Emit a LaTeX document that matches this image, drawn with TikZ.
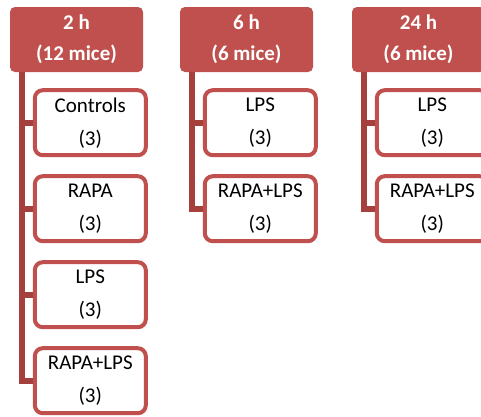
\documentclass[tikz,border=0pt]{standalone}
\usepackage{fontspec}
\setmainfont{Carlito}
\usetikzlibrary{positioning}
\definecolor{hdred}{HTML}{C0504D}
\definecolor{linered}{HTML}{A5403D}

\begin{document}
\begin{tikzpicture}[
    x=1pt, y=1pt,
    node distance=17pt,
    head/.style={rectangle, fill=hdred, rounded corners=5pt, minimum width=133pt, minimum height=65pt, inner sep=0pt, align=center, text=white, font=\fontsize{21}{31}\selectfont\bfseries},
    group/.style={rectangle, draw=hdred, line width=4pt, fill=white, rounded corners=8pt, minimum width=111pt, minimum height=65pt, inner sep=0pt, align=center, font=\fontsize{21}{33}\selectfont},
    link/.style={linered, line width=6pt}
]
    \useasboundingbox (0,0) rectangle (481,-416);
    \clip (0,0) rectangle (481,-416);

    % time points
    \node[head] (h2) at (76.5,-39.5) {2 h\\(12 mice)};
    \node[head] (h6) at (246.5,-39.5) {6 h\\(6 mice)};
    \node[head] (h24) at (418.5,-39.5) {24 h\\(6 mice)};

    % 2 h groups
    \node[group, anchor=north west] (ctrl2) at ([xshift=23pt, yshift=-16pt]h2.south west) {Controls\\(3)};
    \node[group, below=of ctrl2] (rapa2) {RAPA\\(3)};
    \node[group, below=of rapa2] (lps2) {LPS\\(3)};
    \node[group, below=of lps2] (both2) {RAPA+LPS\\(3)};

    % 6 h groups
    \node[group, anchor=north west] (lps6) at ([xshift=23pt, yshift=-16pt]h6.south west) {LPS\\(3)};
    \node[group, below=of lps6] (both6) {RAPA+LPS\\(3)};

    % 24 h groups
    \node[group, anchor=north west] (lps24) at ([xshift=23pt, yshift=-16pt]h24.south west) {LPS\\(3)};
    \node[group, below=of lps24] (both24) {RAPA+LPS\\(3)};

    % connectors
    \coordinate (t2) at ([xshift=12pt]h2.south west);
    \coordinate (t6) at ([xshift=12pt]h6.south west);
    \coordinate (t24) at ([xshift=12pt]h24.south west);

    \draw[link] (t2) |- (both2.west);
    \draw[link] (t2 |- ctrl2.west) -- (ctrl2.west);
    \draw[link] (t2 |- rapa2.west) -- (rapa2.west);
    \draw[link] (t2 |- lps2.west) -- (lps2.west);

    \draw[link] (t6) |- (both6.west);
    \draw[link] (t6 |- lps6.west) -- (lps6.west);

    \draw[link] (t24) |- (both24.west);
    \draw[link] (t24 |- lps24.west) -- (lps24.west);
\end{tikzpicture}
\end{document}
